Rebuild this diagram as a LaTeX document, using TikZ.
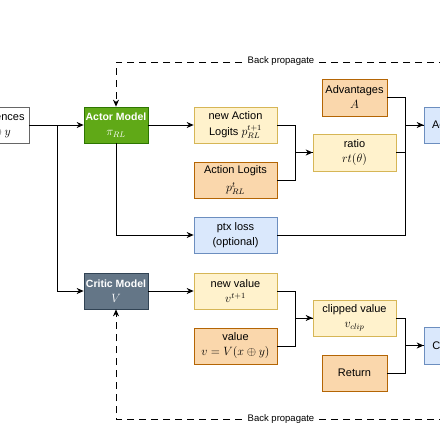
\documentclass[tikz,border=0pt]{standalone}
\usepackage{fontspec}
\setmainfont{Liberation Sans}
\usetikzlibrary{arrows.meta}
\definecolor{actorfill}{HTML}{60A917}
\definecolor{actorline}{HTML}{2D7600}
\definecolor{criticfill}{HTML}{647687}
\definecolor{criticline}{HTML}{314354}
\definecolor{yelfill}{HTML}{FFF2CC}
\definecolor{yelline}{HTML}{D6B656}
\definecolor{orafill}{HTML}{FAD7AC}
\definecolor{oraline}{HTML}{B46504}
\definecolor{bluefill}{HTML}{DAE8FC}
\definecolor{blueline}{HTML}{6C8EBF}
\newcommand{\bigmath}[1]{{\fontsize{12}{15}\selectfont$#1$}}
\begin{document}
\begin{tikzpicture}[x=1pt, y=-1pt,
            box/.style={draw, line width=0.7pt, align=center, inner sep=0pt, minimum height=36pt, font=\fontsize{11}{15}\selectfont},
            model/.style={box, minimum width=64pt, text=white, font=\fontsize{10.5}{15}\selectfont\bfseries},
            newbox/.style={box, minimum width=83pt, fill=yelfill, draw=yelline},
            oldbox/.style={box, fill=orafill, draw=oraline},
            lossbox/.style={box, fill=bluefill, draw=blueline},
            line/.style={line width=0.8pt},
            arr/.style={line, -{Stealth[length=7pt, width=6pt]}},
            bp/.style={arr, dash pattern=on 7pt off 5pt},
            bplabel/.style={fill=white, inner sep=2pt, font=\fontsize{9.5}{11}\selectfont}
            ]
            \fill[white] (0,0) rectangle (440,440);
            \useasboundingbox (0,0) rectangle (440,440);
            \clip (0,0) rectangle (440,440);

            \node[box, minimum width=64pt, fill=white, draw=black!60] (seq) at (-3,125) {Sequences\\\bigmath{x \oplus y}};
            \node[model, fill=actorfill, draw=actorline] (actor) at (116,125) {Actor Model\\\bigmath{\pi_{RL}}};
            \node[model, fill=criticfill, draw=criticline] (critic) at (116,291) {Critic Model\\\bigmath{V}};

            \node[newbox] (newlogit) at (235.5,125) {new Action\\[1pt]Logits \bigmath{p_{RL}^{t+1}}};
            \node[oldbox, minimum width=83pt] (logit) at (235.5,180) {Action Logits\\[3pt]\bigmath{p_{RL}^{t}}};
            \node[lossbox, minimum width=83pt] (ptx) at (235.5,235) {ptx loss\\(optional)};
            \node[oldbox, minimum width=65pt, minimum height=37pt] (adv) at (354.5,97.5) {Advantages\\\bigmath{A}};
            \node[newbox, minimum height=37pt] (ratio) at (354.5,152.5) {ratio\\\bigmath{rt(\theta)}};
            \node[lossbox, minimum width=68pt] (actorloss) at (458,125) {Actor Loss};

            \node[newbox] (newval) at (235.5,291) {new value\\\bigmath{v^{t+1}}};
            \node[oldbox, minimum width=83pt] (val) at (235.5,346) {value\\\bigmath{v = V(x \oplus y)}};
            \node[newbox] (clipval) at (354.5,318) {clipped value\\\bigmath{v_{clip}}};
            \node[oldbox, minimum width=65pt] (ret) at (354.5,373) {Return};
            \node[lossbox, minimum width=68pt, minimum height=37pt] (criticloss) at (458,345.5) {Critic Loss};

            \coordinate (split) at (57,125);
            \coordinate (bptop) at (470,62);
            \coordinate (bpbot) at (470,419);

            \draw[arr] (seq)--(actor);
            \draw[arr] (split) |- (critic);
            \draw[arr] (actor)--(newlogit);
            \draw[arr] (actor.south) |- (ptx);
            \draw[arr] (critic)--(newval);

            \draw[arr] (newlogit.east) -- ++(18,0) |- (ratio);
            \draw[line] (logit.east) -- ++(18,0) |- (ratio);
            \draw[arr] (adv.east) -- ++(18,0) |- (actorloss);
            \draw[line] (ratio.east) -- ++(9,0) |- (actorloss);
            \draw[line] (ptx.east) -| ++(128,-110);

            \draw[arr] (newval.east) -- ++(18,0) |- (clipval);
            \draw[line] (val.east) -- ++(18,0) |- (clipval);
            \draw[arr] (clipval.east) -- ++(9,0) |- (criticloss);
            \draw[line] (ret.east) -- ++(18,0) |- (criticloss);

            \draw[bp] (bptop) -| (actor.north);
            \draw[bp] (bpbot) -| (critic.south);
            \node[bplabel] (bpa) at (281,61) {Back propagate};
            \node[bplabel] (bpc) at (281,419) {Back propagate};
            \end{tikzpicture}
\end{document}
